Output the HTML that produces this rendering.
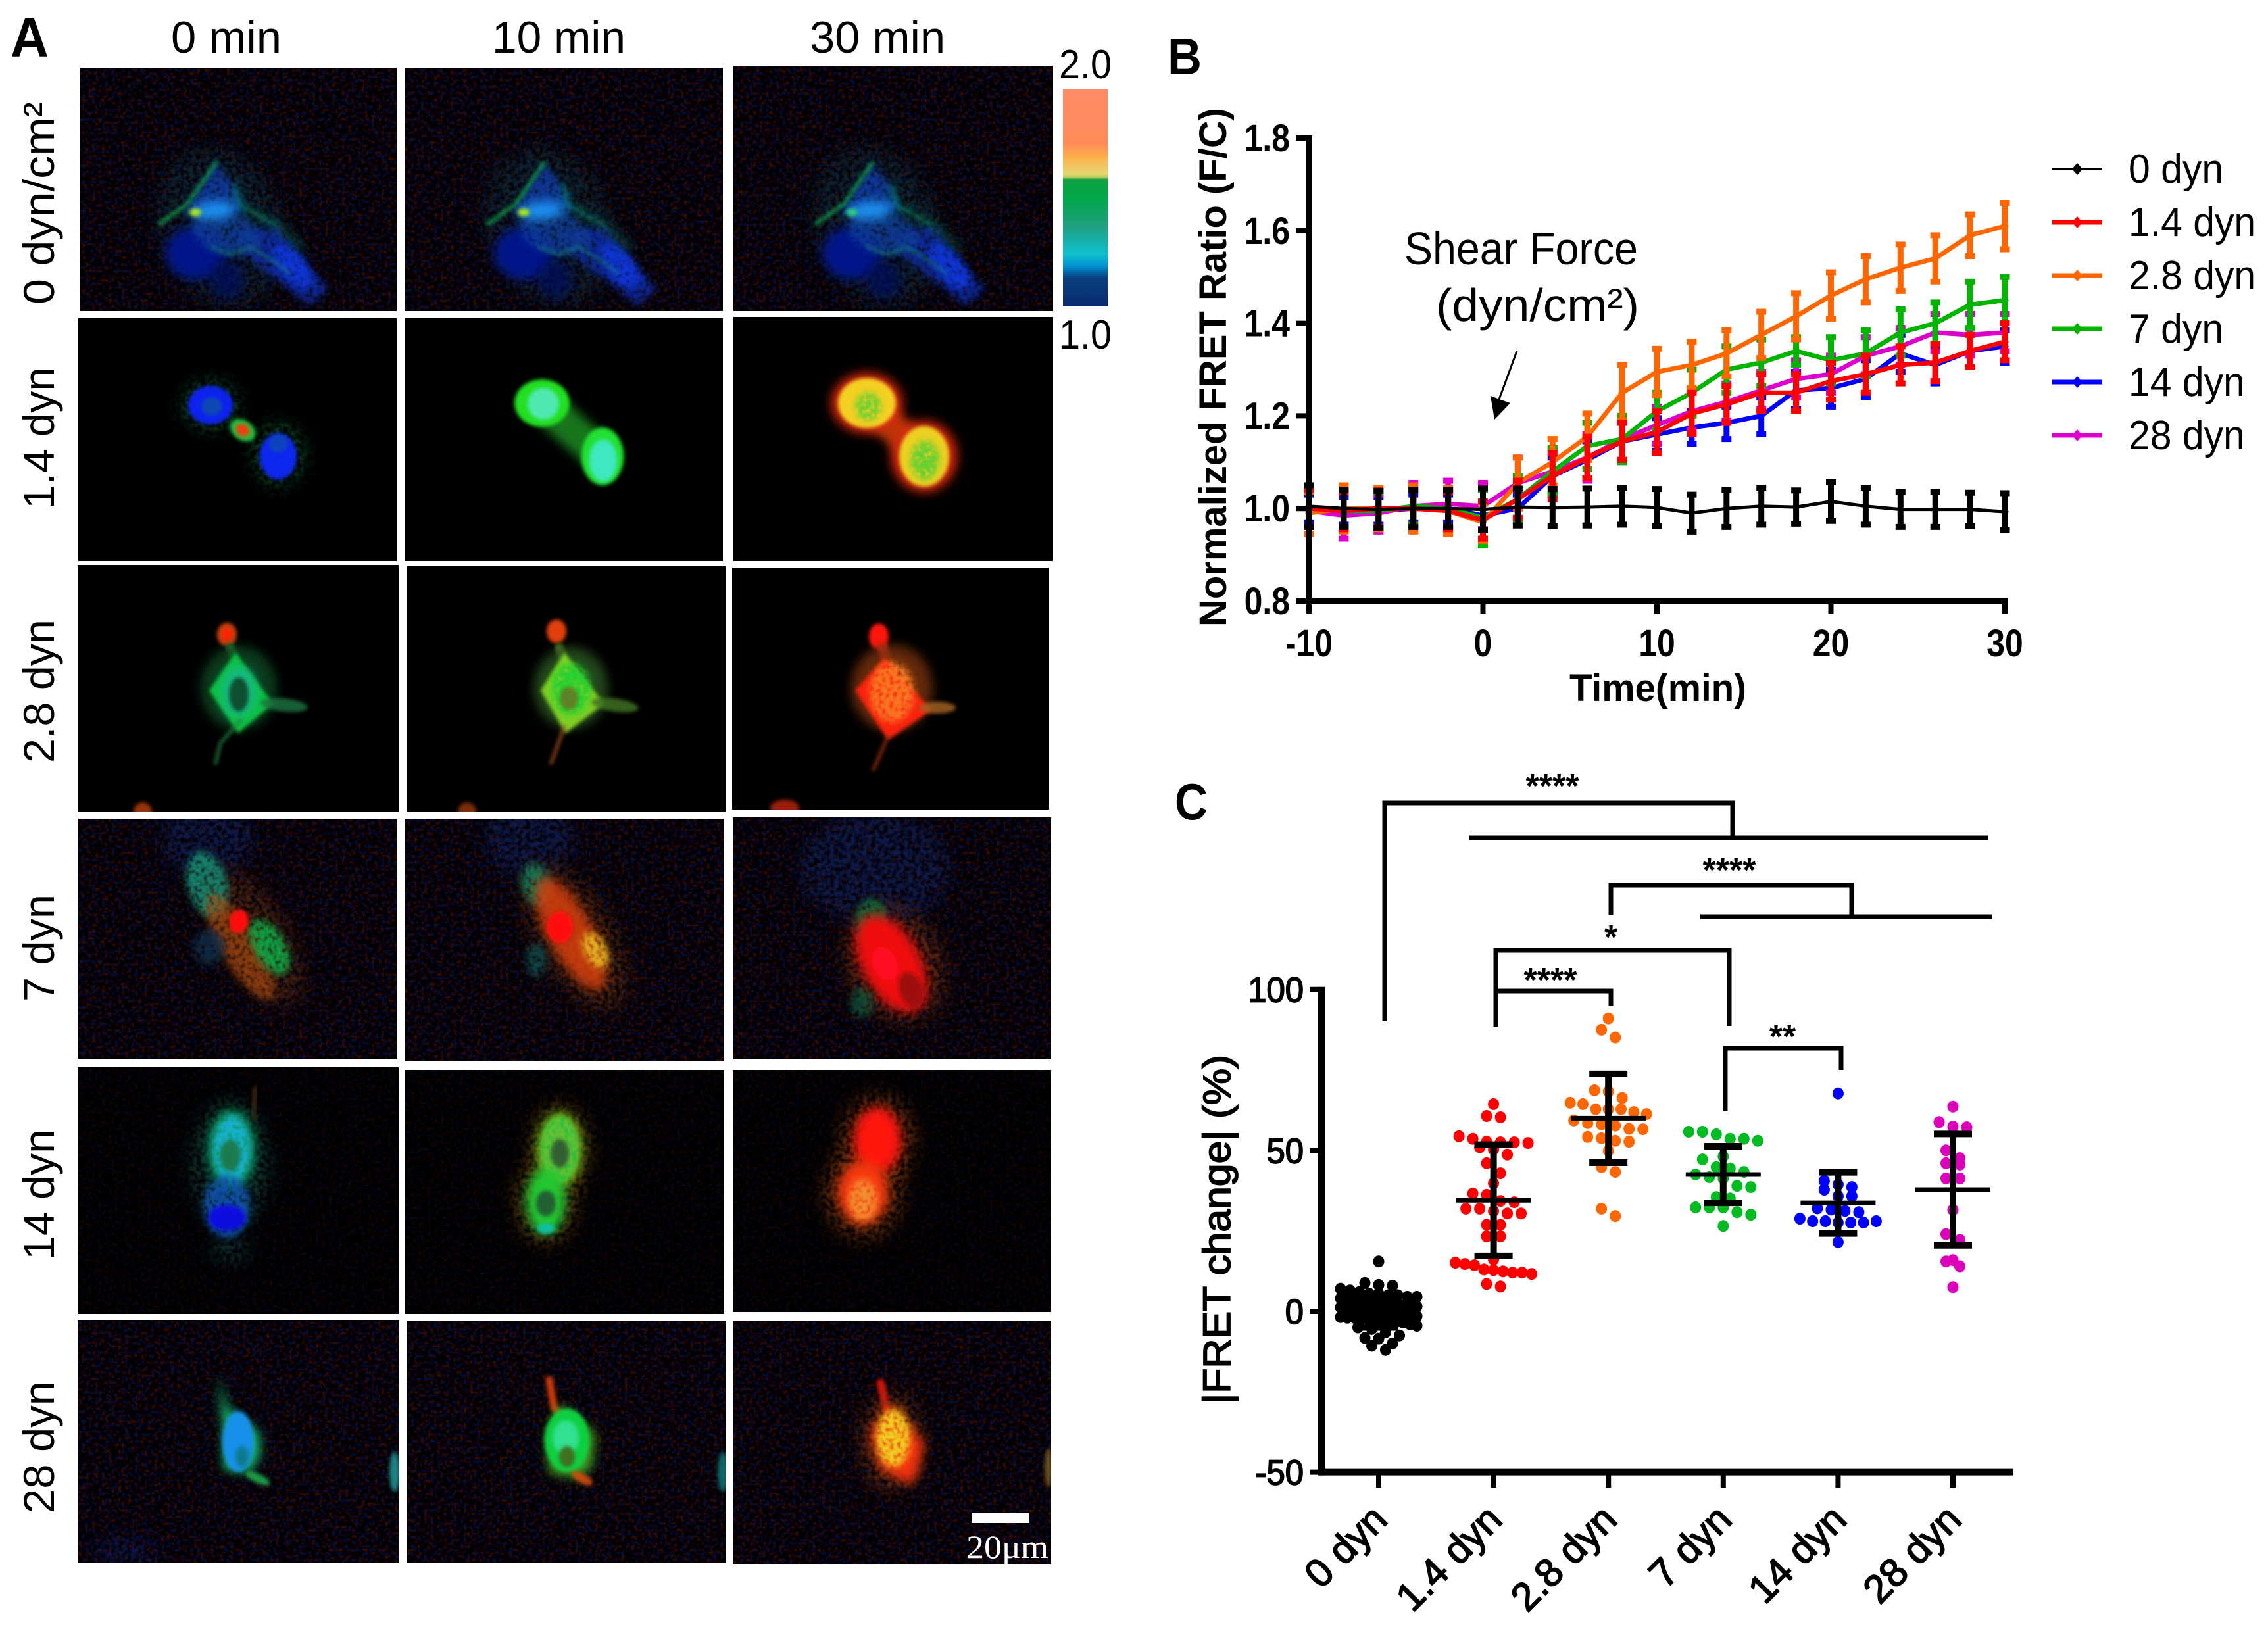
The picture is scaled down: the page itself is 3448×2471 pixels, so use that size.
<!DOCTYPE html>
<html lang="en">
<head>
<meta charset="utf-8">
<title>FRET response to shear force</title>
<style>
html,body{margin:0;padding:0;background:#fff;width:3448px;height:2471px;overflow:hidden}
svg{display:block}
text{font-family:"Liberation Sans",sans-serif;fill:#000}
.thick{stroke:#000;stroke-width:1.8px}
</style>
</head>
<body>
<svg id="fig" xmlns="http://www.w3.org/2000/svg" width="3448" height="2471" viewBox="0 0 3448 2471">
<defs>
<filter id="fh" x="-100%" y="-100%" width="300%" height="300%"><feGaussianBlur in="SourceGraphic" stdDeviation="13" result="b"/><feTurbulence type="fractalNoise" baseFrequency="0.16" numOctaves="2" seed="4"/><feColorMatrix values="0 0 0 0 0 0 0 0 0 0 0 0 0 0 0 0 0 0 4 -1.5"/><feComposite in="b" operator="in"/><feGaussianBlur stdDeviation="1.2"/></filter>
<filter id="fm" x="-60%" y="-60%" width="220%" height="220%"><feGaussianBlur in="SourceGraphic" stdDeviation="5" result="b"/><feTurbulence type="fractalNoise" baseFrequency="0.17" numOctaves="2" seed="9"/><feColorMatrix values="0 0 0 0 0 0 0 0 0 0 0 0 0 0 0 0 0 0 3.2 -0.7"/><feComposite in="b" operator="in"/><feGaussianBlur stdDeviation="1.2"/></filter>
<filter id="fb" x="-100%" y="-100%" width="300%" height="300%"><feGaussianBlur stdDeviation="8"/></filter>
<filter id="fs" x="-100%" y="-100%" width="300%" height="300%"><feGaussianBlur stdDeviation="3"/></filter>
<filter id="nr" x="0" y="0" width="100%" height="100%"><feTurbulence type="fractalNoise" baseFrequency="0.2" numOctaves="2" seed="2"/><feColorMatrix values="0 0 0 0 0 0 0 0 0 0 0 0 0 0 0 0 0 0 8 -4.3"/><feComposite in="SourceGraphic" operator="in"/><feGaussianBlur stdDeviation="1"/></filter>
<filter id="nb" x="0" y="0" width="100%" height="100%"><feTurbulence type="fractalNoise" baseFrequency="0.2" numOctaves="2" seed="14"/><feColorMatrix values="0 0 0 0 0 0 0 0 0 0 0 0 0 0 0 0 0 0 8 -4.3"/><feComposite in="SourceGraphic" operator="in"/><feGaussianBlur stdDeviation="1"/></filter>
<linearGradient id="cbar" x1="0" y1="0" x2="0" y2="1">
<stop offset="0" stop-color="#ff8c66"/><stop offset="0.25" stop-color="#ff8c58"/><stop offset="0.31" stop-color="#ffae4c"/><stop offset="0.39" stop-color="#e6d870"/><stop offset="0.405" stop-color="#b0c860"/><stop offset="0.415" stop-color="#10a040"/><stop offset="0.5" stop-color="#00a848"/><stop offset="0.63" stop-color="#20a080"/><stop offset="0.76" stop-color="#10c0d0"/><stop offset="0.815" stop-color="#0090d0"/><stop offset="0.867" stop-color="#0a4080"/><stop offset="1" stop-color="#0a2a70"/>
</linearGradient>
</defs>

<g id="panelA">
<text x="16" y="86" font-size="84" font-weight="bold" textLength="58" lengthAdjust="spacingAndGlyphs">A</text>
<text x="260" y="80" font-size="68" textLength="168" lengthAdjust="spacingAndGlyphs">0 min</text>
<text x="748" y="80" font-size="68" textLength="203" lengthAdjust="spacingAndGlyphs">10 min</text>
<text x="1231" y="80" font-size="68" textLength="206" lengthAdjust="spacingAndGlyphs">30 min</text>
<text transform="translate(82,463) rotate(-90)" font-size="66" textLength="308" lengthAdjust="spacingAndGlyphs">0 dyn/cm²</text>
<text transform="translate(82,774) rotate(-90)" font-size="66" textLength="216" lengthAdjust="spacingAndGlyphs">1.4 dyn</text>
<text transform="translate(82,1160) rotate(-90)" font-size="66" textLength="218" lengthAdjust="spacingAndGlyphs">2.8 dyn</text>
<text transform="translate(82,1523) rotate(-90)" font-size="66" textLength="163" lengthAdjust="spacingAndGlyphs">7 dyn</text>
<text transform="translate(82,1916) rotate(-90)" font-size="66" textLength="199" lengthAdjust="spacingAndGlyphs">14 dyn</text>
<text transform="translate(82,2301) rotate(-90)" font-size="66" textLength="201" lengthAdjust="spacingAndGlyphs">28 dyn</text>
<g id="micro"></g>
<rect x="1616" y="136" width="68" height="330" fill="url(#cbar)"/>
<text x="1610" y="119" font-size="62" textLength="80" lengthAdjust="spacingAndGlyphs">2.0</text>
<text x="1610" y="530" font-size="62" textLength="80" lengthAdjust="spacingAndGlyphs">1.0</text>
<rect x="1477" y="2300" width="88" height="16" fill="#fff"/>
<text x="1469" y="2369" font-size="50" textLength="125" lengthAdjust="spacingAndGlyphs" style="font-family:'Liberation Serif',serif;fill:#fff">20μm</text>
</g>

<g id="panelB">
<text x="1775" y="113" font-size="78" font-weight="bold" textLength="52" lengthAdjust="spacingAndGlyphs">B</text>
<text transform="translate(1864,953) rotate(-90)" font-size="58" font-weight="bold" textLength="789" lengthAdjust="spacingAndGlyphs">Normalized FRET Ratio (F/C)</text>
<text x="2386" y="1066" font-size="58" font-weight="bold" textLength="269" lengthAdjust="spacingAndGlyphs">Time(min)</text>
<text x="2135" y="402" font-size="70" textLength="355" lengthAdjust="spacingAndGlyphs">Shear Force</text>
<text x="2183" y="488" font-size="70" textLength="309" lengthAdjust="spacingAndGlyphs">(dyn/cm²)</text>
<line x1="2306" y1="534" x2="2278" y2="610" stroke="#000" stroke-width="3"/>
<polygon points="2272,638 2266,602 2296,613" fill="#000"/>
<g id="chartB"></g>
</g>

<g id="panelC">
<text x="1786" y="1246" font-size="78" font-weight="bold" textLength="50" lengthAdjust="spacingAndGlyphs">C</text>
<text class="thick" transform="translate(1870,2135) rotate(-90)" font-size="58" textLength="531" lengthAdjust="spacingAndGlyphs">|FRET change| (%)</text>
<g fill="none" stroke="#000" stroke-width="7">
<path d="M2105 1553V1221H2634V1272"/>
<path d="M2234 1274H3022"/>
<path d="M2449 1391V1346H2815V1394"/>
<path d="M2585 1394H3029"/>
<path d="M2274 1561V1445H2629V1560"/>
<path d="M2277 1507H2449V1529"/>
<path d="M2623 1690V1594H2799V1627"/>
</g>
<g font-size="52" font-weight="bold" text-anchor="middle">
<text x="2360" y="1213">****</text>
<text x="2629" y="1341">****</text>
<text x="2449" y="1443">*</text>
<text x="2357" y="1508">****</text>
<text x="2710" y="1594">**</text>
</g>
<g id="chartC"></g>
</g>
</svg>

<script>
// Panel B data
const timePoints = [-10,-8,-6,-4,-2,0,2,4,6,8,10,12,14,16,18,20,22,24,26,28,30];
const xTicksB = [-10,0,10,20,30];
const yTicksB = [0.8,1.0,1.2,1.4,1.6,1.8];
const yTickLabelsB = ['0.8','1.0','1.2','1.4','1.6','1.8'];
const legendNames = ['0 dyn','1.4 dyn','2.8 dyn','7 dyn','14 dyn','28 dyn'];
const dyn0 = [1.005,1.0,0.998,1.0,1.0,0.998,1.003,1.002,1.003,1.005,1.002,0.99,1.0,1.005,1.003,1.015,1.005,0.998,0.998,0.998,0.993];
const dyn0Err = [0.045,0.04,0.04,0.04,0.04,0.045,0.04,0.04,0.04,0.04,0.04,0.04,0.04,0.04,0.036,0.042,0.04,0.038,0.038,0.036,0.04];
const dyn1p4 = [1.0,0.995,1.0,1.0,0.995,0.975,1.02,1.07,1.11,1.145,1.165,1.205,1.225,1.25,1.25,1.275,1.29,1.31,1.315,1.34,1.36];
const dyn1p4Err = [0.04,0.04,0.04,0.04,0.04,0.04,0.04,0.05,0.045,0.04,0.045,0.045,0.04,0.04,0.04,0.04,0.04,0.04,0.04,0.035,0.04];
const dyn2p8 = [0.99,1.0,1.0,1.0,0.995,0.97,1.055,1.1,1.155,1.25,1.295,1.31,1.335,1.375,1.415,1.46,1.495,1.52,1.54,1.59,1.61];
const dyn2p8Err = [0.045,0.05,0.045,0.05,0.05,0.04,0.055,0.05,0.05,0.06,0.05,0.05,0.05,0.05,0.05,0.05,0.05,0.05,0.05,0.045,0.05];
const dyn7 = [1.0,0.995,0.995,1.005,1.0,0.98,1.02,1.08,1.135,1.15,1.21,1.25,1.3,1.315,1.34,1.32,1.335,1.38,1.4,1.44,1.45];
const dyn7Err = [0.04,0.04,0.04,0.04,0.04,0.06,0.05,0.05,0.05,0.05,0.04,0.05,0.05,0.05,0.03,0.05,0.05,0.05,0.045,0.05,0.05];
const dyn14 = [1.0,0.995,0.995,1.0,1.0,0.985,1.0,1.07,1.105,1.145,1.16,1.175,1.185,1.2,1.255,1.26,1.28,1.335,1.31,1.34,1.35];
const dyn14Err = [0.03,0.03,0.03,0.03,0.03,0.03,0.03,0.04,0.04,0.04,0.035,0.035,0.035,0.04,0.04,0.04,0.04,0.04,0.04,0.035,0.035];
const dyn28 = [0.995,0.985,0.99,1.005,1.01,1.005,1.055,1.08,1.11,1.15,1.18,1.21,1.23,1.255,1.28,1.29,1.33,1.35,1.38,1.375,1.38];
const dyn28Err = [0.05,0.05,0.04,0.05,0.05,0.05,0.055,0.05,0.05,0.05,0.04,0.04,0.04,0.04,0.04,0.04,0.04,0.04,0.04,0.045,0.04];

// Panel C data
const groupNames = ['0 dyn','1.4 dyn','2.8 dyn','7 dyn','14 dyn','28 dyn'];
const yTicksC = [-50,0,50,100];
const pts0 = [15.5,8.8,8.2,8,7,6.5,6,5.5,5.5,5,5,4.5,4.5,4,4,3.8,3.5,3.2,3,3,2.8,2.5,2.2,2,2,1.8,1.5,1.2,1,1,0.8,0.5,0.5,0.2,0,0,-0.3,-0.5,-0.5,-0.8,-1,-1,-1.3,-1.5,-1.8,-2,-2,-2.3,-2.5,-2.8,-3,-3,-3.3,-3.5,-4,-4.5,-5,-5.5,-6.5,-7.5,-8.3,-8.5,-10,-10.7,-12];
const pts1p4 = [64.4,60.7,60.3,54.4,53.6,52.7,52.5,52.5,52.3,51,50.3,48.7,46,42.9,39.8,36.6,36.2,34.3,33.9,31.9,31.9,31.1,30.4,30.4,26.9,26.9,23.3,23.3,16.1,15.1,14.7,14.3,13,12.8,12.4,12,12,11.6,8.5,7.7];
const pts2p8 = [91,87.5,85.1,68.7,68.3,66.3,64.8,64.4,62.8,62.8,62.8,61.9,61.3,59.3,58.5,58.1,57.7,56.7,56.6,54.2,53.8,53,52.7,49.9,44.8,43.3,31.9,29.6];
const pts7 = [55.8,55.8,55,53.6,53.6,53,48.1,47.2,44.8,44.4,43.3,42.5,41.7,41.3,39,38.6,35.5,35.1,32.3,32.3,32.3,30.8,30,26.5];
const pts14 = [67.7,40.5,39.4,38.6,37.8,35.8,35.8,32,31.6,31.2,30.8,28.8,28,28,27.6,27.6,27.6,28,21.5];
const pts28 = [63.6,58.8,57.4,57.2,50,47.6,46,45.6,41.3,41.3,31.5,24,22.2,15.9,15.5,14,7.5];
const groupMeans = [0,34.5,60,42.5,33.7,37.8];
const groupSDs = [5,17.3,13.8,8.8,9.5,17.3];

const NS = 'http://www.w3.org/2000/svg';
function mk(parent, tag, attrs, txt) {
  const n = document.createElementNS(NS, tag);
  for (const k in attrs) n.setAttribute(k, attrs[k]);
  if (txt !== undefined) n.textContent = txt;
  parent.appendChild(n);
  return n;
}
function squeeze(el, f) {
  el.setAttribute('textLength', (el.getComputedTextLength() * f).toFixed(1));
  el.setAttribute('lengthAdjust', 'spacingAndGlyphs');
}

/* ---------- Panel B ---------- */
(function () {
  const g = document.getElementById('chartB');
  const xB = t => 1990 + (t + 10) * (3048 - 1990) / 40;
  const yB = v => 914 - (v - 0.8) * (914 - 210);
  const order = [
    {v: dyn14, e: dyn14Err, c: '#0000ff', w: 7, n: '14-dyn'},
    {v: dyn28, e: dyn28Err, c: '#dd00cc', w: 7, n: '28-dyn'},
    {v: dyn7, e: dyn7Err, c: '#00b400', w: 7, n: '7-dyn'},
    {v: dyn2p8, e: dyn2p8Err, c: '#ff6600', w: 7, n: '2-8-dyn'},
    {v: dyn1p4, e: dyn1p4Err, c: '#ff0000', w: 7, n: '1-4-dyn'},
    {v: dyn0, e: dyn0Err, c: '#000000', w: 5, n: '0-dyn'}
  ];
  order.forEach(s => {
    const sg = mk(g, 'g', {});
    
    
    const pts = s.v.map((v, i) => xB(timePoints[i]).toFixed(1) + ',' + yB(v).toFixed(1)).join(' ');
    const line = mk(sg, 'polyline', {points: pts, fill: 'none', stroke: s.c, 'stroke-width': s.w, 'stroke-linejoin': 'round'});
    
    
    s.v.forEach((v, i) => {
      const x = xB(timePoints[i]);
      const hi = yB(v + s.e[i]), lo = yB(v - s.e[i]);
      const bar = mk(sg, 'path', {d: 'M' + x + ' ' + hi + 'V' + lo, stroke: s.c, 'stroke-width': 9, fill: 'none'});
      
      
      const cap = mk(sg, 'path', {d: 'M' + (x - 7.5) + ' ' + hi + 'H' + (x + 7.5) + 'M' + (x - 7.5) + ' ' + lo + 'H' + (x + 7.5), stroke: s.c, 'stroke-width': 9, fill: 'none'});
      
      
      const y = yB(v);
      const mark = mk(sg, 'polygon', {points: x + ',' + (y - 7) + ' ' + (x + 6) + ',' + y + ' ' + x + ',' + (y + 7) + ' ' + (x - 6) + ',' + y, fill: s.c});
      
      
    });
  });
  const yAxis = mk(g, 'line', {x1: 1990, x2: 1990, y1: yB(1.8) - 4, y2: yB(0.8) + 5, stroke: '#000', 'stroke-width': 10});
  
  
  const xAxis = mk(g, 'line', {x1: 1985, x2: xB(30) + 4, y1: yB(0.8), y2: yB(0.8), stroke: '#000', 'stroke-width': 10});
  
  
  yTicksB.forEach((v, i) => {
    const t = mk(g, 'line', {x1: 1970, x2: 1990, y1: yB(v), y2: yB(v), stroke: '#000', 'stroke-width': 8});
    
    
    const l = mk(g, 'text', {x: 1961, y: yB(v) + 20, 'font-size': 58, 'font-weight': 'bold', 'text-anchor': 'end'}, yTickLabelsB[i]);
    
    
    squeeze(l, 0.86);
  });
  xTicksB.forEach(v => {
    const t = mk(g, 'line', {x1: xB(v), x2: xB(v), y1: yB(0.8), y2: 933, stroke: '#000', 'stroke-width': 8});
    
    
    const l = mk(g, 'text', {x: xB(v), y: 998, 'font-size': 58, 'font-weight': 'bold', 'text-anchor': 'middle'}, String(v));
    
    
    squeeze(l, 0.86);
  });
  const legendColors = ['#000000', '#ff0000', '#ff6600', '#00b400', '#0000ff', '#dd00cc'];
  legendNames.forEach((name, i) => {
    const y = 257 + i * 81;
    const lg = mk(g, 'g', {});
    
    
    const ln = mk(lg, 'line', {x1: 3120, x2: 3196, y1: y, y2: y, stroke: legendColors[i], 'stroke-width': i === 0 ? 4 : 7});
    
    
    const mark = mk(lg, 'polygon', {points: '3158,' + (y - 9) + ' 3166,' + y + ' 3158,' + (y + 9) + ' 3150,' + y, fill: legendColors[i]});
    
    
    const t = mk(lg, 'text', {x: 3236, y: y + 21, 'font-size': 62}, name);
    
    
    squeeze(t, 0.95);
  });
})();

/* ---------- Panel C ---------- */
(function () {
  const g = document.getElementById('chartC');
  const xC = i => 2096 + i * 174.6;
  const yC = v => 1994 - v * 4.893;
  const sets = [pts0, pts1p4, pts2p8, pts7, pts14, pts28];
  const cols = ['#000000', '#ff0000', '#ff6600', '#00bb22', '#0000ff', '#dd00bb'];
  sets.forEach((vals, i) => {
    const size = vals.length > 50 ? 3 : 4.5;
    const bins = {};
    vals.forEach(v => { const k = Math.round(v / size); (bins[k] = bins[k] || []).push(v); });
    Object.keys(bins).forEach(k => {
      const b = bins[k];
      const step = b.length > 1 ? Math.min(21, 116 / (b.length - 1)) : 0;
      b.forEach((v, j) => {
        const c = mk(g, 'ellipse', {cx: (xC(i) + (j - (b.length - 1) / 2) * step).toFixed(1), cy: yC(v).toFixed(1), rx: 8.5, ry: 9, fill: cols[i]});
        
        
      });
    });
  });
  groupMeans.forEach((m, i) => {
    const x = xC(i), hi = yC(m + groupSDs[i]), lo = yC(m - groupSDs[i]);
    const e = mk(g, 'path', {d: 'M' + x + ' ' + hi + 'V' + lo, stroke: '#000', 'stroke-width': 10, fill: 'none'});
    
    
    const cap = mk(g, 'path', {d: 'M' + (x - 29) + ' ' + hi + 'H' + (x + 29) + 'M' + (x - 29) + ' ' + lo + 'H' + (x + 29), stroke: '#000', 'stroke-width': 10, fill: 'none'});
    
    
    const mean = mk(g, 'line', {x1: x - 57, x2: x + 57, y1: yC(m), y2: yC(m), stroke: '#000', 'stroke-width': 7});
    
    
  });
  const yAxis = mk(g, 'line', {x1: 2009, x2: 2009, y1: yC(100) - 4, y2: yC(-50) + 5, stroke: '#000', 'stroke-width': 10});
  
  
  const xAxis = mk(g, 'line', {x1: 2004, x2: 3061, y1: yC(-50), y2: yC(-50), stroke: '#000', 'stroke-width': 10});
  
  
  yTicksC.forEach(v => {
    const t = mk(g, 'line', {x1: 1991, x2: 2009, y1: yC(v), y2: yC(v), stroke: '#000', 'stroke-width': 8});
    
    
    const l = mk(g, 'text', {x: 1982, y: yC(v) + 19, 'font-size': 54, 'text-anchor': 'end', 'class': 'thick'}, String(v));
    
    
    squeeze(l, 0.94);
  });
  groupNames.forEach((name, i) => {
    const x = xC(i);
    const t = mk(g, 'line', {x1: x, x2: x, y1: yC(-50), y2: 2262, stroke: '#000', 'stroke-width': 8});
    
    
    const l = mk(g, 'text', {transform: 'translate(' + (x + 16) + ',2314) rotate(-45)', 'font-size': 60, 'text-anchor': 'end', 'class': 'thick'}, name);
    
    
  });
})();
</script>

<script>
/* ---------- Panel A: drawn fluorescence images (illustrative shapes) ---------- */
(function () {
  const root = document.getElementById('micro');
  const tiles = [
    [[122,603,103,473],[616,1099,103,473],[1115,1601,100,473]],
    [[119,603,484,853],[616,1099,484,853],[1115,1601,482,853]],
    [[118,606,859,1234],[619,1103,861,1234],[1113,1595,863,1231]],
    [[119,603,1245,1610],[616,1101,1245,1614],[1114,1598,1243,1610]],
    [[118,606,1623,1998],[616,1101,1627,1998],[1114,1598,1627,1995]],
    [[118,607,2007,2376],[619,1103,2008,2376],[1114,1598,2008,2379]]
  ];
  const noisy = [1, 0, 0, 1, 0.35, 1];
  const E = (cx, cy, rx, ry, rot, c, f, o) => ['e', cx, cy, rx, ry, rot, c, f, o === undefined ? 1 : o];
  const P = (pts, c, f, o) => ['p', pts, c, f, o === undefined ? 1 : o];
  const L = (pts, c, w, f, o) => ['l', pts, c, w, f, o === undefined ? 1 : o];

  function shift(pts, dx) {
    return pts.split(' ').map(p => { const a = p.split(','); return (+a[0] + dx) + ',' + a[1]; }).join(' ');
  }
  const row0 = d => [
    E(335 + d, 345, 95, 125, -20, '#0a2c38', 'fh', 0.85),
    E(297 + d, 385, 45, 40, 0, '#001890', 'fb', 0.95),
    E(345 + d, 425, 26, 30, 0, '#001060', 'fb', 0.7),
    P(shift('350,355 420,345 500,440 470,465 380,395', d), '#0a2ca8', 'fm', 0.85),
    E(445 + d, 405, 20, 42, -40, '#0838e0', 'fm', 0.9),
    P(shift('328,248 280,325 372,325 358,285', d), '#0a3aa8', 'fm', 0.9),
    E(345 + d, 355, 55, 32, 15, '#0a3c98', 'fm', 0.85),
    L(shift('328,248 285,310 243,340', d), '#18b050', 6, 'fs', 0.7),
    L(shift('358,282 364,312 420,342 460,378', d), '#169880', 5, 'fb', 0.85),
    L(shift('358,282 364,312 420,342', d), '#18a070', 3, 'fs', 0.5),
    L(shift('320,375 350,387 380,375 420,400 440,415', d), '#168a70', 5, 'fs', 0.5),
    E(325 + d, 320, 34, 14, -5, '#1c90f0', 'fb', 1),
    E(297 + d, 323, 9, 6, 0, d > 900 ? '#30d080' : '#b0f020', 'fs', 0.95)
  ];
  const scenes = [
    [row0(0), row0(499), row0(998)],
    [
      [E(320,616,46,40,0,'#08502c','fh',0.9), E(423,691,42,50,0,'#08502c','fh',0.9), E(320,616,34,29,0,'#0824f0','fs'), E(423,694,28,35,0,'#0828f0','fs'), E(322,618,16,14,0,'#10589a','fs',0.7), E(423,675,14,14,0,'#10589a','fs',0.6), E(369,654,21,15,35,'#20c040','fs'), E(369,654,11,9,35,'#f04010','fs')],
      [L('824,613 916,694','#1a8a20',52,'fb',0.85), E(824,613,42,36,0,'#20e020','fs'), E(916,694,32,44,0,'#20e030','fs'), E(826,614,24,24,0,'#50e8b0','fs'), E(917,700,21,32,0,'#40e8c0','fs')],
      [L('1318,613 1405,694','#d04010',46,'fb',0.9), E(1318,613,54,46,0,'#d82810','fb'), E(1405,694,50,54,0,'#d82810','fb'), E(1318,613,44,38,0,'#f4d020','fs'), E(1405,694,38,46,0,'#ecd020','fs'), E(1320,618,20,22,0,'#70d030','fm'), E(1406,700,22,30,0,'#60d030','fm')]
    ],
    [
      [E(217,1234,14,14,0,'#c04010','fs',0.8), E(345,965,15,18,0,'#c84010','fs'), E(345,965,7,10,0,'#ff2000','fs'), L('350,985 358,1005','#207030',14,'fs',0.9), E(363,1046,58,64,0,'#0c4a24','fb',0.8), P('358,992 415,1070 362,1115 318,1050','#10c040','fs'), E(363,1052,26,38,0,'#18b888','fb'), E(363,1056,15,26,0,'#10502e','fs'), L('366,1095 335,1130 328,1160','#208040',6,'fs',0.7), E(432,1072,36,10,6,'#1a7040','fs',0.85)],
      [E(710,1234,14,14,0,'#b04010','fs',0.7), E(846,960,15,18,0,'#e04010','fs'), L('850,985 858,1005','#507020',14,'fs',0.9), E(868,1046,56,62,0,'#2c5820','fb',0.8), P('858,992 918,1070 860,1115 822,1050','#80d020','fs'), E(868,1048,30,40,0,'#20d030','fm'), E(865,1062,14,18,0,'#687020','fs',0.8), E(935,1072,36,10,8,'#407020','fs',0.85), L('858,1105 838,1160','#a05020',6,'fs',0.7)],
      [E(1193,1228,22,12,0,'#c02808','fs',0.8), E(1336,968,15,20,0,'#ff1810','fs'), L('1342,985 1350,1010','#d02810',16,'fs',0.9), E(1356,1046,62,66,0,'#7a3010','fb',0.8), P('1345,1000 1416,1080 1350,1125 1300,1050','#f82410','fs'), E(1356,1052,34,46,0,'#f87820','fm'), E(1425,1076,28,9,0,'#a06020','fs',0.85), L('1350,1120 1328,1170','#a03010',6,'fs',0.7)]
    ],
    [
      [E(315,1275,70,60,0,'#081c50','fh',0.95), E(385,1425,54,118,-30,'#5a2c08','fh',0.8), E(315,1345,30,52,-15,'#128068','fm'), E(365,1440,28,92,-30,'#a84810','fm',0.75), E(410,1440,24,46,-30,'#10a040','fm'), E(318,1440,24,28,0,'#0a3050','fm',0.8), E(363,1401,14,18,15,'#ff1010','fs')],
      [E(805,1275,70,60,0,'#081c50','fh',0.95), E(875,1425,60,125,-30,'#5a2c08','fh',0.85), E(815,1345,22,34,-15,'#187050','fm'), E(868,1420,34,95,-28,'#d84010','fb',0.85), E(851,1410,20,24,0,'#ff1010','fs'), E(905,1445,17,30,-28,'#e0b020','fm'), E(815,1460,16,26,0,'#0f5050','fm',0.8)],
      [E(1330,1320,115,85,0,'#081c50','fh',0.95), E(1360,1465,74,96,-28,'#6a2a0c','fh',0.9), E(1325,1400,24,34,0,'#107030','fm',0.9), E(1355,1465,44,80,-28,'#f01010','fb'), E(1345,1465,18,26,-25,'#ff1020','fs'), E(1385,1505,18,28,-20,'#a01010','fs'), E(1310,1525,18,24,0,'#106040','fm',0.7)]
    ],
    [
      [L('388,1655 385,1700','#5a3010',7,'fs',0.7), E(350,1770,62,100,0,'#103a30','fh',0.9), E(352,1748,35,60,0,'#10a868','fb',0.9), E(352,1748,28,52,0,'#18b0d0','fm'), E(350,1757,16,24,0,'#1a7a50','fs'), E(345,1835,36,48,0,'#0a50a8','fm'), E(345,1852,28,20,0,'#0810e0','fs'), E(350,1900,30,20,0,'#0a4040','fh',0.8)],
      [E(851,1748,48,72,0,'#5a3a10','fh',0.95), E(830,1826,50,68,0,'#5a3a10','fh',0.95), E(851,1748,34,56,0,'#60c820','fb',0.9), E(851,1748,28,50,0,'#10c040','fs'), E(851,1748,30,52,0,'#d8c020','fm',0.45), E(851,1754,14,22,0,'#306030','fs'), E(830,1826,30,50,0,'#20c830','fb'), E(830,1830,15,20,0,'#206030','fs'), E(830,1868,14,8,0,'#10c0a0','fs')],
      [E(1334,1734,58,72,0,'#703010','fh',0.95), E(1312,1813,62,74,0,'#703010','fh',0.95), E(1334,1734,36,50,0,'#ff1810','fb'), E(1312,1813,38,48,0,'#f83810','fb'), E(1312,1825,22,32,0,'#f09030','fm')]
    ],
    [
      [P('331,2092 346,2140 395,2180 395,2215 378,2240 340,2235 340,2170','#16b868','fb'), E(362,2192,24,46,0,'#1890e8','fs'), E(368,2215,10,16,0,'#107a90','fs'), E(392,2248,20,7,25,'#20b050','fs',0.85), E(600,2238,8,30,0,'#20a0a0','fs',0.8), E(190,2360,50,24,0,'#081a60','fh',0.7)],
      [L('835,2098 842,2140 858,2160','#e04010',11,'fs',0.9), P('850,2135 905,2180 900,2230 880,2248 835,2240 832,2180','#40a020','fb'), E(862,2190,34,48,0,'#10d040','fs'), E(860,2186,20,26,0,'#30e090','fs'), E(862,2215,12,16,0,'#407020','fs'), E(885,2248,18,7,30,'#e05010','fs',0.85), E(1099,2238,8,30,0,'#108080','fs',0.8)],
      [L('1339,2103 1348,2145 1360,2165','#f01810',12,'fs',0.9), E(1356,2192,48,76,0,'#70300f','fh',0.95), P('1355,2135 1405,2195 1395,2240 1385,2258 1340,2235 1322,2180','#f03010','fb'), E(1358,2187,26,44,0,'#f0d020','fm'), E(1594,2232,6,30,0,'#806020','fs',0.8)]
    ]
  ];

  tiles.forEach((row, r) => row.forEach((t, c) => {
    const w = t[1] - t[0], h = t[3] - t[2];
    const tile = mk(root, 'svg', {x: t[0], y: t[2], width: w, height: h, viewBox: t[0] + ' ' + t[2] + ' ' + w + ' ' + h});
    
    
    const bg = mk(tile, 'rect', {x: t[0], y: t[2], width: w, height: h, fill: '#000'});
    
    
    if (noisy[r]) {
      const nr = mk(tile, 'rect', {x: t[0], y: t[2], width: w, height: h, fill: '#3a0a04', filter: 'url(#nr)', opacity: noisy[r]});
      
      
      const nb = mk(tile, 'rect', {x: t[0], y: t[2], width: w, height: h, fill: '#04103a', filter: 'url(#nb)', opacity: noisy[r]});
      
      
    }
    scenes[r][c].forEach(s => {
      let n;
      if (s[0] === 'e') {
        n = mk(tile, 'ellipse', {cx: s[1], cy: s[2], rx: s[3], ry: s[4], transform: 'rotate(' + s[5] + ' ' + s[1] + ' ' + s[2] + ')', fill: s[6], filter: 'url(#' + s[7] + ')', opacity: s[8]});
      } else if (s[0] === 'p') {
        n = mk(tile, 'polygon', {points: s[1], fill: s[2], filter: 'url(#' + s[3] + ')', opacity: s[4]});
      } else {
        n = mk(tile, 'polyline', {points: s[1], fill: 'none', stroke: s[2], 'stroke-width': s[3], 'stroke-linecap': 'round', filter: 'url(#' + s[4] + ')', opacity: s[5]});
      }
      
      
    });
  }));
})();
</script>
</body>
</html>
